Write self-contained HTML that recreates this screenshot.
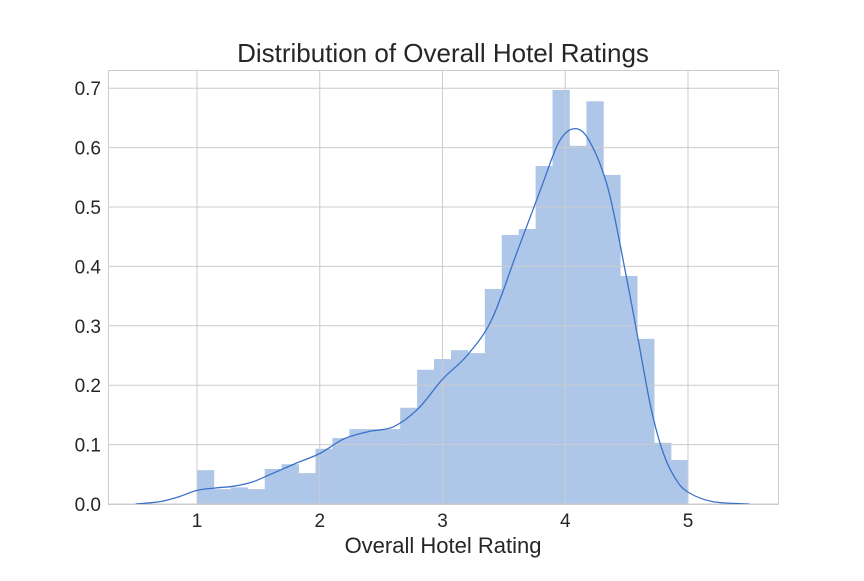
<!DOCTYPE html>
<html><head><meta charset="utf-8"><style>
body{margin:0;background:#fff;}
svg text{font-family:"Liberation Sans",sans-serif;fill:#262626;}
</style></head><body>
<svg id="chart" width="864" height="576">
<text x="443" y="62" font-size="26" text-anchor="middle">Distribution of Overall Hotel Ratings</text>
<text x="443" y="553" font-size="22" text-anchor="middle">Overall Hotel Rating</text>
<g id="bars"></g><g id="grid"></g><g id="kde"></g><g id="ticks"></g>
<rect x="108.5" y="70.5" width="670" height="434" fill="none" stroke="#cccccc" stroke-width="1"/>
</svg>
<script>
const binStart = 1.0, binEnd = 5.0;
const binHeights = [0.057,0.025,0.028,0.025,0.059,0.067,0.052,0.093,0.111,0.126,0.126,0.126,0.162,0.226,0.244,0.259,0.254,0.362,0.453,0.463,0.569,0.697,0.603,0.678,0.554,0.384,0.278,0.103,0.074];
const kdeX = [0.5,0.7,0.85,1.0,1.15,1.3,1.45,1.6,1.8,2.0,2.2,2.4,2.6,2.8,3.0,3.2,3.4,3.6,3.8,3.95,4.08,4.2,4.35,4.5,4.6,4.7,4.8,4.9,5.0,5.2,5.5];
const kdeY = [0,0.004,0.012,0.023,0.027,0.03,0.037,0.05,0.068,0.085,0.11,0.122,0.13,0.16,0.21,0.25,0.31,0.42,0.53,0.61,0.632,0.61,0.53,0.38,0.27,0.16,0.085,0.042,0.02,0.004,0];
const xTicks = [1,2,3,4,5];
const yTicks = [0,0.1,0.2,0.3,0.4,0.5,0.6,0.7];
const yTickLabels = ["0.0","0.1","0.2","0.3","0.4","0.5","0.6","0.7"];
const NS="http://www.w3.org/2000/svg";
const X = v => 197 + (v-1)*122.75;
const Y = v => 504 - v*594;
function mk(tag, attrs, parent){const e=document.createElementNS(NS,tag);for(const k in attrs)e.setAttribute(k,attrs[k]);document.getElementById(parent).appendChild(e);return e;}
yTicks.forEach((t,i)=>{
  const l=mk('line',{x1:108,x2:778,y1:Y(t),y2:Y(t),stroke:'#cccccc','stroke-width':1},'grid');
  
  
  const tx=mk('text',{x:101,y:Y(t)+7,'font-size':19,'text-anchor':'end'},'ticks');
  tx.textContent=yTickLabels[i];
  
  
});
xTicks.forEach(t=>{
  const l=mk('line',{x1:X(t),x2:X(t),y1:70,y2:504,stroke:'#cccccc','stroke-width':1},'grid');
  
  
  const tx=mk('text',{x:X(t),y:527,'font-size':19,'text-anchor':'middle'},'ticks');
  tx.textContent=String(t);
  
  
});
const bw=(binEnd-binStart)/binHeights.length;
binHeights.forEach((h,i)=>{
  const x0=X(binStart+i*bw), x1=X(binStart+(i+1)*bw);
  const r=mk('rect',{x:x0,y:Y(h),width:x1-x0+0.3,height:Y(0)-Y(h),fill:'#aec6e8'},'bars');
  
  
});
const pts=kdeX.map((x,i)=>[X(x),Y(kdeY[i])]);
let d='M'+pts[0][0]+','+pts[0][1];
for(let i=0;i<pts.length-1;i++){
  const p0=pts[Math.max(0,i-1)],p1=pts[i],p2=pts[i+1],p3=pts[Math.min(pts.length-1,i+2)];
  const c1=[p1[0]+(p2[0]-p0[0])/6,p1[1]+(p2[1]-p0[1])/6];
  const c2=[p2[0]-(p3[0]-p1[0])/6,p2[1]-(p3[1]-p1[1])/6];
  d+=` C${c1[0]},${c1[1]} ${c2[0]},${c2[1]} ${p2[0]},${p2[1]}`;
}
const path=mk('path',{d:d,fill:'none',stroke:'#3a72c8','stroke-width':1.3},'kde');


</script>
</body></html>
